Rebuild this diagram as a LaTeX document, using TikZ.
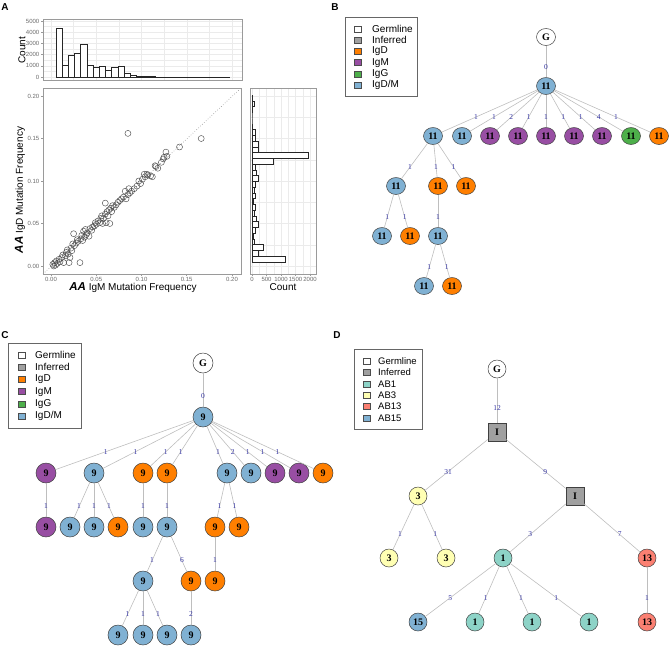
\documentclass[tikz,border=0pt]{standalone}
\usepackage{fontspec}
\setmainfont{Liberation Serif}
\setsansfont{Liberation Sans}
\usetikzlibrary{shapes.geometric,calc}
\definecolor{cblue}{HTML}{80B1D3}
\definecolor{corange}{HTML}{FF7F00}
\definecolor{cpurple}{HTML}{984EA3}
\definecolor{cgreen}{HTML}{4DAF4A}
\definecolor{cgray}{HTML}{A0A0A0}
\definecolor{cteal}{HTML}{8DD3C7}
\definecolor{cyellow}{HTML}{FFFFB3}
\definecolor{cred}{HTML}{FB8072}
\definecolor{lblc}{RGB}{55,55,165}
\definecolor{edgec}{RGB}{190,190,190}
\definecolor{gridc}{HTML}{EBEBEB}
\definecolor{framec}{HTML}{9A9A9A}
\definecolor{tickc}{HTML}{6A6A6A}
\newcommand\edg[4][0.62]{\draw[edge] (#2) -- (#3); \node[lbl] at ($(#2)!#1!(#3)$) {#4};}
\begin{document}
\begin{tikzpicture}[x=1pt,y=-1pt,
  nb/.style={ellipse, draw=black!75, line width=0.5pt, minimum width=19pt, minimum height=17pt, inner sep=0pt, font=\fontsize{10}{10}\selectfont\bfseries},
  nc/.style={circle, draw=black!75, line width=0.5pt, minimum size=20pt, inner sep=0pt, font=\fontsize{10}{10}\selectfont\bfseries},
  nd/.style={circle, draw=black!75, line width=0.5pt, minimum size=18pt, inner sep=0pt, font=\fontsize{10}{10}\selectfont\bfseries},
  sq/.style={rectangle, draw=black!75, fill=cgray, line width=0.5pt, minimum size=18pt, inner sep=0pt, font=\fontsize{10}{10}\selectfont\bfseries},
  edge/.style={draw=edgec, line width=0.6pt},
  lbl/.style={font=\fontsize{7.5}{7.5}\selectfont, text=lblc, inner sep=0pt},
  legsq/.style={rectangle, draw=black!70, line width=0.4pt, minimum width=7pt, minimum height=6pt, inner sep=0pt},
  legtxt/.style={font=\sffamily\fontsize{10}{10}\selectfont, anchor=west, inner sep=0pt},
  legtxtd/.style={font=\sffamily\fontsize{9.5}{9.5}\selectfont, anchor=west, inner sep=0pt},
  legbox/.style={draw=black!60, line width=0.6pt},
  plet/.style={font=\sffamily\bfseries\fontsize{10}{10}\selectfont, inner sep=0pt},
  tk/.style={font=\sffamily\fontsize{6}{6}\selectfont, text=tickc, inner sep=0pt},
  axt/.style={font=\sffamily\fontsize{10}{10}\selectfont, inner sep=0pt},
  bar/.style={draw=black!85, fill=white, line width=0.6pt},
  grd/.style={draw=gridc, line width=0.4pt},
  frm/.style={draw=framec, line width=0.8pt},
  pt/.style={draw=black!70, line width=0.45pt},
  tkm/.style={draw=framec, line width=0.5pt}
]
\useasboundingbox (0,0) rectangle (669,646);
% ---------------- Panel A ----------------
\node[plet] (labA) at (5,7) {A};
% top histogram
\foreach \y in {21,26.6,32.2,37.8,43.4,49,54.6,60.2,65.8,71.4,77} \draw[grd] (43,\y) -- (242,\y);
\foreach \x in {51,73.6,96.25,118.9,141.5,164.1,186.75,209.4,232} \draw[grd] (\x,19) -- (\x,80);
\foreach \c [count=\i from 0] in {4350,1070,1960,2100,2900,1070,830,920,620,830,980,330,150,50,30,20,15,10,10,8,6,5,4,3,3,2,2,2}
  \draw[bar] ({56+\i*6.18},77) rectangle ({56+(\i+1)*6.18},{77-\c*0.0112});
\draw[frm] (43,19) rectangle (242,80);
\foreach \c [count=\i from 0] in {0,1000,2000,3000,4000,5000} {
  \draw[tkm] (41,{77-\c*0.0112}) -- (43,{77-\c*0.0112});
  \node[tk,anchor=east] at (39.5,{77-\c*0.0112}) {\c};
}
\node[axt,rotate=90] (cntA) at (22,50) {Count};
% scatter
\draw[black!45, dotted, line width=0.6pt] (43,274) -- (241,88);
\foreach \x/\y in {0.002/0.002, 0.003/0.000, 0.004/0.004, 0.005/0.001, 0.006/0.006, 0.007/0.003, 0.009/0.008, 0.010/0.005, 0.012/0.010, 0.013/0.013, 0.014/0.004, 0.016/0.012, 0.017/0.016, 0.018/0.019, 0.019/0.014, 0.020/0.004, 0.021/0.010, 0.022/0.021, 0.023/0.018, 0.024/0.026, 0.025/0.038, 0.026/0.024, 0.028/0.027, 0.029/0.031, 0.030/0.029, 0.032/0.004, 0.033/0.032, 0.034/0.036, 0.035/0.030, 0.036/0.041, 0.037/0.034, 0.038/0.043, 0.039/0.037, 0.040/0.039, 0.042/0.035, 0.043/0.044, 0.045/0.042, 0.046/0.046, 0.048/0.047, 0.049/0.051, 0.050/0.049, 0.052/0.053, 0.054/0.051, 0.055/0.056, 0.056/0.059, 0.057/0.050, 0.058/0.056, 0.060/0.074, 0.060/0.061, 0.061/0.051, 0.062/0.064, 0.063/0.059, 0.064/0.066, 0.065/0.050, 0.066/0.068, 0.067/0.064, 0.068/0.071, 0.070/0.069, 0.072/0.072, 0.074/0.075, 0.076/0.077, 0.078/0.079, 0.080/0.081, 0.082/0.088, 0.083/0.079, 0.085/0.084, 0.086/0.091, 0.087/0.086, 0.089/0.088, 0.092/0.091, 0.095/0.094, 0.097/0.100, 0.099/0.097, 0.101/0.102, 0.103/0.108, 0.104/0.105, 0.106/0.108, 0.107/0.107, 0.110/0.106, 0.112/0.105, 0.115/0.118, 0.116/0.117, 0.118/0.115, 0.122/0.122, 0.124/0.126, 0.125/0.128, 0.127/0.134, 0.128/0.129, 0.142/0.140, 0.166/0.150, 0.085/0.156}
  \draw[pt] ({51+\x*905},{266-\y*850}) circle[radius=3pt];
\draw[frm] (43,88) rectangle (241,274);
\foreach \v/\t in {0/0.00,0.05/0.05,0.1/0.10,0.15/0.15,0.2/0.20} {
  \draw[tkm] (41,{266-\v*850}) -- (43,{266-\v*850});
  \node[tk,anchor=east] at (39.5,{266-\v*850}) {\t};
  \draw[tkm] ({51+\v*905},274) -- ({51+\v*905},276);
  \node[tk] at ({51+\v*905},279.5) {\t};
}
\node[axt] (xtit) at (133,287.5) {{\bfseries\itshape\fontsize{11.5}{11.5}\selectfont AA} IgM Mutation Frequency};
\node[axt,rotate=90] (ytit) at (20,190) {{\bfseries\itshape\fontsize{11.5}{11.5}\selectfont AA} IgD Mutation Frequency};
% right histogram
\foreach \v in {0,0.025,0.05,0.075,0.1,0.125,0.15,0.175,0.2} \draw[grd] (250,{266-\v*850}) -- (316,{266-\v*850});
\foreach \c in {0,250,500,750,1000,1250,1500,1750,2000} \draw[grd] ({252+\c*0.029},88) -- ({252+\c*0.029},274);
\foreach \c [count=\k from 0] in {1150,220,380,90,60,120,230,150,90,100,30,100,90,120,230,150,130,750,1950,220,200,100,100,20,0,0,10,90,20}
  \draw[bar] (252,{262-\k*5.75}) rectangle ({252+\c*0.029},{262-(\k+1)*5.75});
\draw[frm] (250,88) rectangle (316,274);
\foreach \c in {0,500,1000,1500,2000} {
  \draw[tkm] ({252+\c*0.029},274) -- ({252+\c*0.029},276);
  \node[tk] at ({252+\c*0.029},279.5) {\c};
}
\node[axt] (cntR) at (283,287.5) {Count};
% ---------------- Panel B ----------------
\node[plet] (labB) at (335,7) {B};
\draw[legbox] (345,17) rectangle (417,96);
\foreach \c/\t [count=\i from 0] in {white/Germline,cgray/Inferred,corange/IgD,cpurple/IgM,cgreen/IgG,cblue/IgD\slash M} {
  \node[legsq,fill=\c] (bl\i) at (358,{29+\i*11.2}) {};
  \node[legtxt] (blt\i) at (372,{29+\i*11.2}) {\t};
}
\node[nb,fill=white] (bG) at (546,37) {G};
\node[nb,fill=cblue] (b0) at (546,86) {11};
\foreach \n/\x/\c in {1/433/cblue,2/462/cblue,3/490/cpurple,4/518/cpurple,5/546/cpurple,6/574/cpurple,7/602/cpurple,8/631/cgreen,9/659/corange}
  \node[nb,fill=\c] (b\n) at (\x,136) {11};
\node[nb,fill=cblue] (b11) at (396,186) {11};
\node[nb,fill=corange] (b12) at (438,186) {11};
\node[nb,fill=corange] (b13) at (466,186) {11};
\node[nb,fill=cblue] (b111) at (382,236) {11};
\node[nb,fill=corange] (b112) at (410,236) {11};
\node[nb,fill=cblue] (b121) at (438,236) {11};
\node[nb,fill=cblue] (b1211) at (424,286) {11};
\node[nb,fill=corange] (b1212) at (452,286) {11};
\edg{bG}{b0}{0}
\foreach \n/\l in {1/1,2/1,3/2,4/1,5/1,6/1,7/1,8/4,9/1} {\edg{b0}{b\n}{\l}}
\edg{b1}{b11}{1}
\edg{b1}{b12}{1}
\edg{b1}{b13}{1}
\edg{b11}{b111}{1}
\edg{b11}{b112}{1}
\edg{b12}{b121}{1}
\edg{b121}{b1211}{1}
\edg{b121}{b1212}{1}
% ---------------- Panel C ----------------
\node[plet] (labC) at (5,335) {C};
\draw[legbox] (8,343) rectangle (81,428);
\foreach \c/\t [count=\i from 0] in {white/Germline,cgray/Inferred,corange/IgD,cpurple/IgM,cgreen/IgG,cblue/IgD\slash M} {
  \node[legsq,fill=\c] (cl\i) at (22,{355+\i*12.2}) {};
  \node[legtxt] (clt\i) at (35,{355+\i*12.2}) {\t};
}
\node[nc,fill=white] (cG) at (203,363) {G};
\node[nc,fill=cblue] (c0) at (203,417) {9};
\foreach \n/\x/\c in {1/46/cpurple,2/94/cblue,3/143/corange,4/167/corange,5/227/cblue,6/251/cblue,7/275/cpurple,8/299/cpurple,9/323/corange}
  \node[nc,fill=\c] (c\n) at (\x,473) {9};
\node[nc,fill=cpurple] (c11) at (46,527) {9};
\node[nc,fill=cblue] (c21) at (70,527) {9};
\node[nc,fill=cblue] (c22) at (94,527) {9};
\node[nc,fill=corange] (c23) at (118,527) {9};
\node[nc,fill=cblue] (c31) at (143,527) {9};
\node[nc,fill=cblue] (c41) at (167,527) {9};
\node[nc,fill=corange] (c51) at (215,527) {9};
\node[nc,fill=corange] (c52) at (239,527) {9};
\node[nc,fill=cblue] (c411) at (143,581) {9};
\node[nc,fill=corange] (c412) at (191,581) {9};
\node[nc,fill=corange] (c511) at (215,581) {9};
\node[nc,fill=cblue] (c4111) at (118,635) {9};
\node[nc,fill=cblue] (c4112) at (143,635) {9};
\node[nc,fill=cblue] (c4113) at (167,635) {9};
\node[nc,fill=cblue] (c4121) at (191,635) {9};
\edg{cG}{c0}{0}
\foreach \n/\l in {1/1,2/1,3/1,4/1,5/1,6/2,7/1,8/1,9/1} {\edg{c0}{c\n}{\l}}
\edg{c1}{c11}{1}
\edg{c2}{c21}{1}
\edg{c2}{c22}{1}
\edg{c2}{c23}{1}
\edg{c3}{c31}{1}
\edg{c4}{c41}{1}
\edg{c5}{c51}{1}
\edg{c5}{c52}{1}
\edg{c41}{c411}{1}
\edg{c41}{c412}{6}
\edg{c51}{c511}{1}
\edg{c411}{c4111}{1}
\edg{c411}{c4112}{1}
\edg{c411}{c4113}{1}
\edg{c412}{c4121}{2}
% ---------------- Panel D ----------------
\node[plet] (labD) at (337,335) {D};
\draw[legbox] (354,349) rectangle (422,429);
\foreach \c/\t [count=\i from 0] in {white/Germline,cgray/Inferred,cteal/AB1,cyellow/AB3,cred/AB13,cblue/AB15} {
  \node[legsq,fill=\c] (dl\i) at (367,{361+\i*11.4}) {};
  \node[legtxtd] (dlt\i) at (378,{361+\i*11.4}) {\t};
}
\node[nd,fill=white] (dG) at (497,369) {G};
\node[sq] (dI1) at (497,432) {I};
\node[nd,fill=cyellow] (d3) at (418,496) {3};
\node[sq] (dI2) at (575,496) {I};
\node[nd,fill=cyellow] (d31) at (389,558) {3};
\node[nd,fill=cyellow] (d32) at (446,558) {3};
\node[nd,fill=cteal] (d1) at (503,558) {1};
\node[nd,fill=cred] (d13) at (647,558) {13};
\node[nd,fill=cblue] (d15) at (418,622) {15};
\node[nd,fill=cteal] (d1a) at (475,622) {1};
\node[nd,fill=cteal] (d1b) at (532,622) {1};
\node[nd,fill=cteal] (d1c) at (589,622) {1};
\node[nd,fill=cred] (d131) at (647,622) {13};
\edg{dG}{dI1}{12}
\edg{dI1}{d3}{31}
\edg{dI1}{dI2}{9}
\edg{d3}{d31}{1}
\edg{d3}{d32}{1}
\edg{dI2}{d1}{3}
\edg{dI2}{d13}{7}
\edg{d1}{d15}{5}
\edg{d1}{d1a}{1}
\edg{d1}{d1b}{1}
\edg{d1}{d1c}{1}
\edg{d13}{d131}{1}
\end{tikzpicture}
\end{document}
